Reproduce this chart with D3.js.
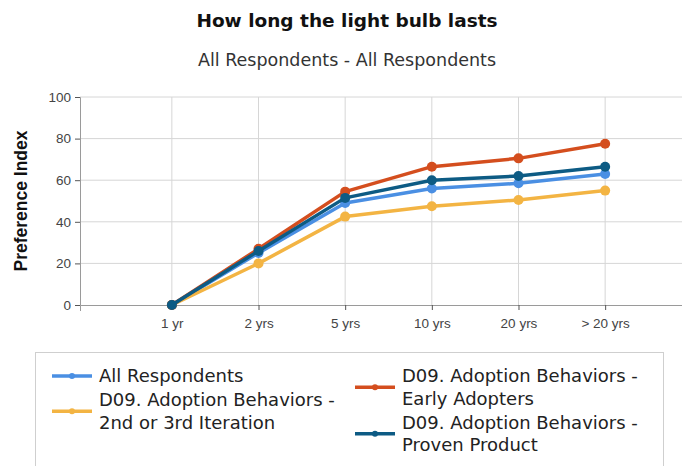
<!DOCTYPE html>
<html>
<head>
<meta charset="utf-8">
<script src="https://d3js.org/d3.v7.min.js"></script>
<style>
  body { margin: 0; background: #fff; }
  svg { display: block; }
  .grid line { stroke: #d6d6d6; stroke-width: 1; }
  .axis path.domain { stroke: #9a9a9a; }
  .axis .tick line { stroke: #555; }
  .axis text { font-family: "Liberation Sans", Arial, sans-serif; font-size: 13.5px; fill: #444; }
  .chart-line { fill: none; stroke-width: 3.5; stroke-linejoin: round; }
</style>
</head>
<body>
<svg id="chart"></svg>
<script>
// categories + series
const categories = ["1 yr", "2 yrs", "5 yrs", "10 yrs", "20 yrs", "> 20 yrs"];
const yTicks = [0, 20, 40, 60, 80, 100];

const allRespondents = [0, 25, 49, 56, 58.5, 63];
const iteration = [0, 20, 42.5, 47.5, 50.5, 55];
const earlyAdopters = [0, 27, 54.5, 66.5, 70.5, 77.5];
const provenProduct = [0, 26, 51.5, 60, 62, 66.5];

const seriesLegendLines = [
  ["All Respondents"],
  ["D09. Adoption Behaviors -", "2nd or 3rd Iteration"],
  ["D09. Adoption Behaviors -", "Early Adopters"],
  ["D09. Adoption Behaviors -", "Proven Product"]
];
const seriesColors = ["#4a8fe3", "#f3b443", "#d44e1e", "#0d5b84"];

class LineChart {

  constructor(_config, _series) {
    this.config = {
      parentElement: _config.parentElement,
      containerWidth: _config.containerWidth || 682,
      containerHeight: _config.containerHeight || 466,
      // plot runs off the right edge, like the picture
      margin: { top: 97, bottom: 161, right: -15, left: 80 }
    }
    this.series = _series;
    this.initVis();
  }

  initVis() {
    let vis = this;

    vis.width = vis.config.containerWidth - vis.config.margin.left - vis.config.margin.right;
    vis.height = vis.config.containerHeight - vis.config.margin.top - vis.config.margin.bottom;

    vis.xScale = d3.scalePoint()
      .domain(categories)
      .range([0, vis.width])
      .padding(1.06);

    vis.yScale = d3.scaleLinear()
      .domain([0, 100])
      .range([vis.height, 0]);

    vis.xAxis = d3.axisBottom(vis.xScale)
      .tickSize(5)
      .tickSizeOuter(6)
      .tickPadding(8);

    vis.yAxis = d3.axisLeft(vis.yScale)
      .tickValues(yTicks)
      .tickSize(5)
      .tickSizeOuter(5)
      .tickPadding(4);

    vis.svg = d3.select(vis.config.parentElement)
      .attr('width', vis.config.containerWidth)
      .attr('height', vis.config.containerHeight);

    vis.chart = vis.svg.append('g')
      .attr('transform', `translate(${vis.config.margin.left},${vis.config.margin.top})`);

    vis.updateVis();
  }

  updateVis() {
    let vis = this;
    vis.line = d3.line()
      .x((d, i) => vis.xScale(categories[i]))
      .y(d => vis.yScale(d));
    vis.renderVis();
  }

  renderVis() {
    let vis = this;

    // gridlines
    vis.chart.append('g').attr('class', 'grid')
      .selectAll('line.h')
      .data(yTicks.filter(d => d > 0))
      .join('line')
      .attr('x1', 0).attr('x2', vis.width)
      .attr('y1', d => vis.yScale(d)).attr('y2', d => vis.yScale(d));

    vis.chart.append('g').attr('class', 'grid')
      .selectAll('line.v')
      .data(categories)
      .join('line')
      .attr('x1', d => vis.xScale(d)).attr('x2', d => vis.xScale(d))
      .attr('y1', 0).attr('y2', vis.height);

    vis.chart.append('g')
      .attr('class', 'axis y-axis')
      .call(vis.yAxis);

    vis.chart.append('g')
      .attr('class', 'axis x-axis')
      .attr('transform', `translate(0,${vis.height})`)
      .call(vis.xAxis);

    // lines + markers
    vis.series.forEach((s, k) => {
      vis.chart.append('path')
        .datum(s)
        .attr('class', 'chart-line')
        .attr('stroke', seriesColors[k])
        .attr('d', vis.line);

      vis.chart.append('g')
        .selectAll('circle')
        .data(s)
        .join('circle')
        .attr('cx', (d, i) => vis.xScale(categories[i]))
        .attr('cy', d => vis.yScale(d))
        .attr('r', 5)
        .attr('fill', seriesColors[k]);
    });

    // titles
    vis.svg.append('text')
      .attr('x', 347).attr('y', 27)
      .attr('text-anchor', 'middle')
      .style('font-family', '"DejaVu Sans", sans-serif')
      .style('font-weight', 'bold')
      .style('font-size', '18.5px')
      .style('fill', '#111')
      .text('How long the light bulb lasts');

    vis.svg.append('text')
      .attr('x', 347).attr('y', 66)
      .attr('text-anchor', 'middle')
      .style('font-family', '"DejaVu Sans", sans-serif')
      .style('font-size', '17.5px')
      .style('fill', '#333')
      .text('All Respondents - All Respondents');

    vis.svg.append('text')
      .attr('transform', `translate(27,${vis.config.margin.top + vis.height / 2}) rotate(-90)`)
      .attr('text-anchor', 'middle')
      .style('font-family', '"Liberation Sans", Arial, sans-serif')
      .style('font-weight', 'bold')
      .style('font-size', '17.5px')
      .style('fill', '#111')
      .text('Preference Index');

    // legend
    let legend = vis.svg.append('g');
    legend.append('rect')
      .attr('x', 35.5).attr('y', 352.5)
      .attr('width', 628).attr('height', 130)
      .attr('fill', '#fff')
      .attr('stroke', '#cfcfcf');

    const lineH = 22.5;
    const cols = [{ x: 52, items: [0, 1] }, { x: 355, items: [2, 3] }];
    cols.forEach(c => {
      let baseY = 382;
      c.items.forEach(k => {
        let lines = seriesLegendLines[k];
        let midY = baseY - 6 + (lines.length - 1) * lineH / 2;
        legend.append('line')
          .attr('x1', c.x).attr('x2', c.x + 40)
          .attr('y1', midY).attr('y2', midY)
          .attr('stroke', seriesColors[k])
          .attr('stroke-width', 3.5);
        legend.append('circle')
          .attr('cx', c.x + 20).attr('cy', midY)
          .attr('r', 3)
          .attr('fill', seriesColors[k]);
        let t = legend.append('text')
          .attr('x', c.x + 47).attr('y', baseY)
          .style('font-family', '"DejaVu Sans", sans-serif')
          .style('font-size', '18px')
          .style('fill', '#222');
        lines.forEach((l, j) => {
          t.append('tspan')
            .attr('x', c.x + 47)
            .attr('dy', j === 0 ? 0 : lineH)
            .text(l);
        });
        baseY += lines.length * lineH + 1.5;
      });
    });
  }
}

new LineChart({ parentElement: '#chart', containerWidth: 682, containerHeight: 466 },
  [allRespondents, iteration, earlyAdopters, provenProduct]);
</script>
</body>
</html>
